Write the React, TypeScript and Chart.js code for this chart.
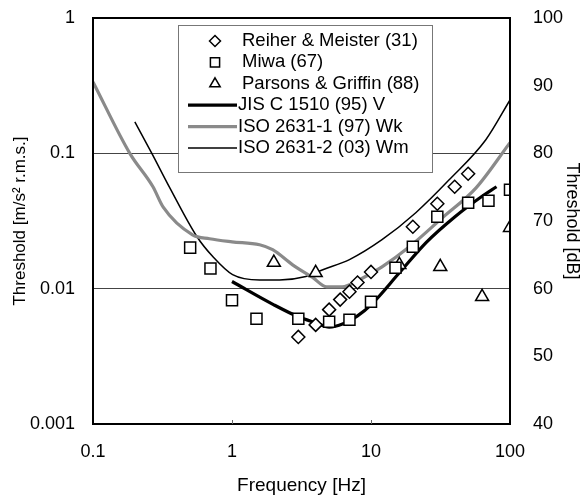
import React, { useEffect, useRef } from 'react';
import { Chart, registerables } from 'chart.js';

Chart.register(...registerables);

// ---- axis ticks ----
const xTickValues = [0.1, 1, 10, 100];
const yTickValues = [0.001, 0.01, 0.1, 1];
const dbMin = 40;
const dbMax = 100;

// ---- measured thresholds (m/s^2 r.m.s.) ----
const reiherFreq = [3, 4, 5, 6, 7, 8, 10, 20, 30, 40, 50];
const reiherThr = [0.0044, 0.0054, 0.007, 0.0083, 0.0095, 0.0111, 0.0133, 0.0287, 0.0424, 0.0566, 0.0706];

const miwaFreq = [0.5, 0.7, 1, 1.5, 3, 5, 7, 10, 15, 20, 30, 50, 70, 100];
const miwaThr = [0.0201, 0.0141, 0.0082, 0.006, 0.006, 0.0057, 0.0059, 0.008, 0.0143, 0.0204, 0.034, 0.0431, 0.0446, 0.0538];

const parsonsFreq = [2, 4, 16, 31.5, 63, 100];
const parsonsThr = [0.0156, 0.0131, 0.015, 0.0145, 0.0087, 0.0282];

// ---- standard curves ----
const jisFreq = [1, 2, 3, 4, 5, 6.3, 8, 10, 16, 25, 40, 63, 80];
const jisThr = [0.0113, 0.0076, 0.0062, 0.0056, 0.0052, 0.0055, 0.0063, 0.0076, 0.0131, 0.022, 0.0339, 0.0482, 0.0566];

const wkFreq = [0.1, 0.184, 0.27, 0.32, 0.52, 0.69, 1.0, 1.58, 1.96, 2.73, 3.8, 4.8, 6.2, 8.2, 12, 18.9, 32.6, 57, 100];
const wkThr = [0.337, 0.1, 0.0566, 0.04, 0.025, 0.0234, 0.0222, 0.0211, 0.0194, 0.015, 0.0121, 0.0103, 0.0103, 0.0116, 0.0145, 0.0204, 0.0334, 0.0556, 0.12];

const wmFreq = [0.2, 0.265, 0.357, 0.56, 0.73, 1.01, 1.58, 2.2, 3.4, 4.5, 7, 12, 21, 36.5, 67, 100];
const wmThr = [0.171, 0.1, 0.0556, 0.0242, 0.0172, 0.0127, 0.0116, 0.0116, 0.0123, 0.0138, 0.0164, 0.023, 0.0364, 0.0637, 0.126, 0.248];

const seriesLabels = [
  'Reiher & Meister (31)',
  'Miwa (67)',
  'Parsons & Griffin (88)',
  'JIS C 1510 (95) V',
  'ISO 2631-1 (97) Wk',
  'ISO 2631-2 (03) Wm',
];

const FONT = "'Liberation Sans', Arial, Helvetica, sans-serif";

const toXY = (xs: number[], ys: number[]) => xs.map((x, i) => ({ x, y: ys[i] }));

function drawMarker(ctx: CanvasRenderingContext2D, style: string, x: number, y: number, r: number) {
  ctx.beginPath();
  if (style === 'rectRot') {
    ctx.moveTo(x - r, y);
    ctx.lineTo(x, y - r);
    ctx.lineTo(x + r, y);
    ctx.lineTo(x, y + r);
    ctx.closePath();
  } else if (style === 'rect') {
    const s = r * Math.SQRT1_2;
    ctx.rect(x - s, y - s, 2 * s, 2 * s);
  } else if (style === 'triangle') {
    ctx.moveTo(x, y - r);
    ctx.lineTo(x + r * Math.sin((2 * Math.PI) / 3), y - r * Math.cos((2 * Math.PI) / 3));
    ctx.lineTo(x + r * Math.sin((4 * Math.PI) / 3), y - r * Math.cos((4 * Math.PI) / 3));
    ctx.closePath();
  }
  ctx.fillStyle = '#fff';
  ctx.fill();
  ctx.strokeStyle = '#000';
  ctx.lineWidth = 1.5;
  ctx.stroke();
}

const decorPlugin = {
  id: 'decor',
  afterDraw(chart: any) {
    const { ctx, chartArea: a } = chart;
    ctx.save();
    // plot frame
    ctx.strokeStyle = '#000';
    ctx.lineWidth = 2;
    ctx.strokeRect(a.left, a.top, a.right - a.left, a.bottom - a.top);

    // small inner ticks on the x axis
    const xs = chart.scales.x;
    ctx.lineWidth = 1;
    ctx.strokeStyle = '#666';
    [1, 10].forEach((v) => {
      const px = Math.round(xs.getPixelForValue(v)) + 0.5;
      ctx.beginPath();
      ctx.moveTo(px, a.bottom);
      ctx.lineTo(px, a.bottom - 4);
      ctx.stroke();
    });

    // legend box inside the plot
    const bx = 178, by = 25, bw = 254, bh = 147;
    ctx.fillStyle = '#fff';
    ctx.fillRect(bx, by, bw, bh);
    ctx.strokeStyle = '#777';
    ctx.lineWidth = 1;
    ctx.strokeRect(bx + 0.5, by + 0.5, bw, bh);

    ctx.font = `18.5px ${FONT}`;
    ctx.textBaseline = 'middle';
    ctx.textAlign = 'left';
    chart.data.datasets.forEach((ds: any, i: number) => {
      const y = 41 + i * 21.4;
      if (ds.showLine) {
        ctx.strokeStyle = ds.borderColor;
        ctx.lineWidth = ds.borderWidth;
        ctx.beginPath();
        ctx.moveTo(188, y);
        ctx.lineTo(237, y);
        ctx.stroke();
        ctx.fillStyle = '#000';
        ctx.fillText(ds.label, 238, y);
      } else {
        drawMarker(ctx, ds.pointStyle, 215, y, ds.pointStyle === 'rect' ? 6.5 : ds.pointStyle === 'triangle' ? 6 : 5.5);
        ctx.fillStyle = '#000';
        ctx.fillText(ds.label, 242, y);
      }
    });
    ctx.restore();
  },
};

export default function App() {
  const ref = useRef<HTMLCanvasElement>(null);

  useEffect(() => {
    const canvas = ref.current;
    if (!canvas) return;
    const markerCommon = {
      showLine: false,
      pointBackgroundColor: '#fff',
      pointBorderColor: '#000',
      pointBorderWidth: 1.5,
      borderColor: '#000',
      backgroundColor: '#fff',
    };
    const lineCommon = {
      showLine: true,
      pointRadius: 0,
      pointHoverRadius: 0,
      cubicInterpolationMode: 'monotone' as const,
      fill: false,
    };
    const chart = new Chart(canvas, {
      type: 'scatter',
      data: {
        datasets: [
          { ...markerCommon, label: seriesLabels[0], data: toXY(reiherFreq, reiherThr), pointStyle: 'rectRot', pointRadius: 6.5 },
          { ...markerCommon, label: seriesLabels[1], data: toXY(miwaFreq, miwaThr), pointStyle: 'rect', pointRadius: 7.8 },
          { ...markerCommon, label: seriesLabels[2], data: toXY(parsonsFreq, parsonsThr), pointStyle: 'triangle', pointRadius: 7.5 },
          { ...lineCommon, label: seriesLabels[3], data: toXY(jisFreq, jisThr), borderColor: '#000', borderWidth: 3.2 },
          { ...lineCommon, label: seriesLabels[4], data: toXY(wkFreq, wkThr), borderColor: '#8a8a8a', borderWidth: 3.2 },
          { ...lineCommon, label: seriesLabels[5], data: toXY(wmFreq, wmThr), borderColor: '#000', borderWidth: 1.5 },
        ] as any,
      },
      options: {
        responsive: false,
        animation: false,
        devicePixelRatio: 1,
        layout: { padding: { top: 18, left: 0, right: 0, bottom: 0 } },
        plugins: { legend: { display: false }, tooltip: { enabled: false } },
        scales: {
          x: {
            type: 'logarithmic',
            position: 'bottom',
            min: 0.1,
            max: 100,
            afterBuildTicks: (s: any) => {
              s.ticks = xTickValues.map((v) => ({ value: v }));
            },
            afterFit: (s: any) => {
              s.height = 75;
              s.paddingLeft = 0;
              s.paddingRight = 0;
            },
            ticks: {
              autoSkip: false,
              maxRotation: 0,
              padding: 17,
              color: '#000',
              font: { family: FONT, size: 18 },
              callback: (v: any) => String(v),
            },
            grid: { display: false, drawTicks: false },
            border: { display: false },
            title: {
              display: true,
              text: 'Frequency [Hz]',
              color: '#000',
              font: { family: FONT, size: 19 },
              padding: { top: 0, bottom: 2 },
            },
          },
          y: {
            type: 'logarithmic',
            position: 'left',
            min: 0.001,
            max: 1,
            afterBuildTicks: (s: any) => {
              s.ticks = yTickValues.map((v) => ({ value: v }));
            },
            afterFit: (s: any) => {
              s.width = 93;
              s.paddingTop = 0;
              s.paddingBottom = 0;
            },
            ticks: {
              autoSkip: false,
              padding: 18,
              color: '#000',
              font: { family: FONT, size: 18 },
              callback: (v: any) => String(v),
            },
            grid: {
              drawTicks: false,
              lineWidth: 1,
              color: (c: any) => (c.tick && (c.tick.value === 0.01 || c.tick.value === 0.1) ? '#444' : 'rgba(0,0,0,0)'),
            },
            border: { display: false },
            title: {
              display: true,
              text: 'Threshold [m/s² r.m.s.]',
              color: '#000',
              font: { family: FONT, size: 17 },
              padding: { top: 10, bottom: 0 },
            },
          },
          y1: {
            type: 'linear',
            position: 'right',
            min: dbMin,
            max: dbMax,
            afterFit: (s: any) => {
              s.width = 74;
              s.paddingTop = 0;
              s.paddingBottom = 0;
            },
            ticks: {
              stepSize: 10,
              padding: 23,
              color: '#000',
              font: { family: FONT, size: 18 },
            },
            grid: { display: false, drawTicks: false },
            border: { display: false },
            title: {
              display: true,
              text: 'Threshold [dB]',
              color: '#000',
              font: { family: FONT, size: 18 },
              padding: { top: 1, bottom: 0 },
            },
          },
        },
      } as any,
      plugins: [decorPlugin],
    });
    return () => chart.destroy();
  }, []);

  return (
    <div style={{ position: 'absolute', left: 0, top: 0, width: 584, height: 499, background: '#fff' }}>
      <canvas ref={ref} width={584} height={499} style={{ display: 'block', width: 584, height: 499 }} />
    </div>
  );
}
